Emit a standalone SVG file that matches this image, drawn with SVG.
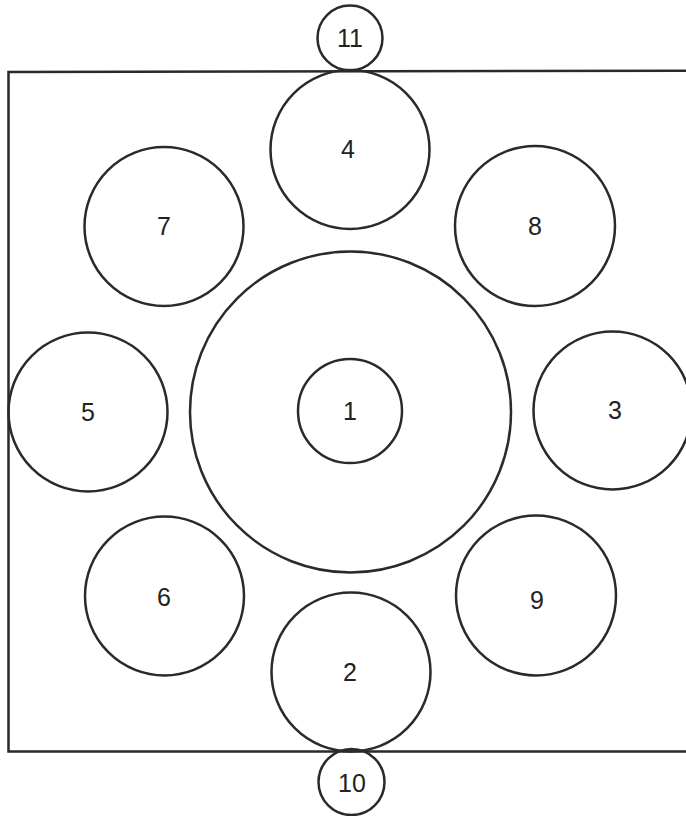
<svg xmlns="http://www.w3.org/2000/svg" width="686" height="816" viewBox="0 0 686 816">
<style>
.c{fill:none;stroke:#2a2a2a;stroke-width:2.5}
.t{font-family:"Liberation Sans",Arial,sans-serif;font-size:25px;fill:#222;text-anchor:middle}
.f{fill:none;stroke:#2a2a2a;stroke-width:2.5}
</style>
<rect width="686" height="816" fill="#fff"/>
<g id="frame"><path class="f" d="M 690 70.8 L 8.5 72 L 8.5 751.5 L 690 751.5"/></g>
<g id="n12"><circle class="c" cx="350.5" cy="412" r="160.5"/></g>
<g id="n1"><circle class="c" cx="350" cy="411" r="52"/><text class="t" x="350" y="420">1</text></g>
<g id="n11"><circle class="c" cx="350" cy="38" r="32.5"/><text class="t" x="350" y="47">11</text></g>
<g id="n4"><circle class="c" cx="350" cy="149.5" r="79.5"/><text class="t" x="348" y="158">4</text></g>
<g id="n7"><circle class="c" cx="164" cy="226.5" r="79.5"/><text class="t" x="164" y="235">7</text></g>
<g id="n8"><circle class="c" cx="535" cy="226" r="80"/><text class="t" x="535" y="235">8</text></g>
<g id="n5"><circle class="c" cx="88" cy="412" r="79.5"/><text class="t" x="88" y="421">5</text></g>
<g id="n3"><circle class="c" cx="612.5" cy="410.5" r="79"/><text class="t" x="615" y="419">3</text></g>
<g id="n6"><circle class="c" cx="164.5" cy="596" r="79.5"/><text class="t" x="164" y="606">6</text></g>
<g id="n9"><circle class="c" cx="536" cy="595.5" r="80"/><text class="t" x="537" y="609">9</text></g>
<g id="n2"><circle class="c" cx="351" cy="672" r="79.5"/><text class="t" x="350" y="681">2</text></g>
<g id="n10"><circle class="c" cx="351.5" cy="782" r="33"/><text class="t" x="352" y="792">10</text></g>
<g id="connectors"></g>
</svg>
